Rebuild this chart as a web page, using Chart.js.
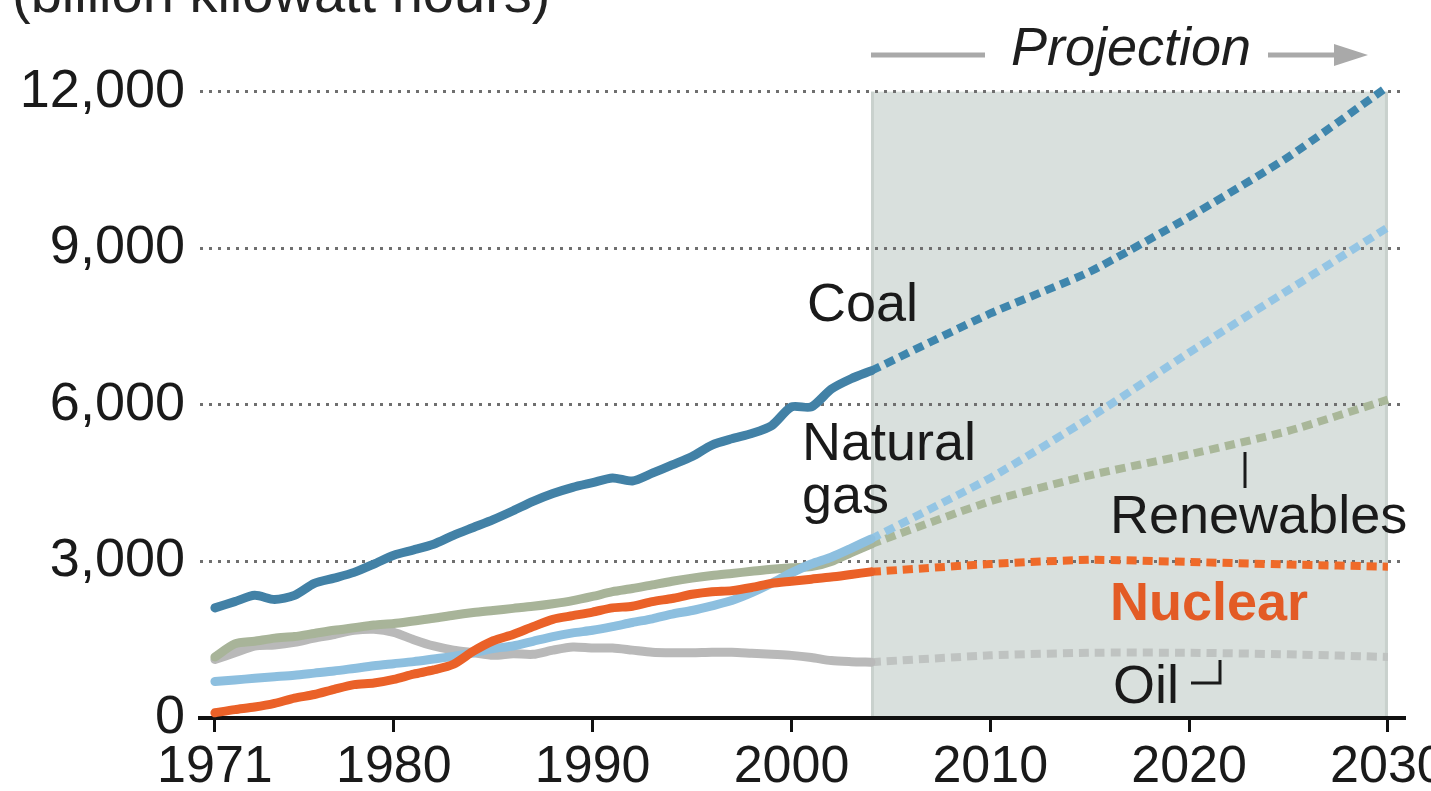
<!DOCTYPE html>
<html>
<head>
<meta charset="utf-8">
<script src="https://cdn.jsdelivr.net/npm/chart.js@4.4.1/dist/chart.umd.min.js"></script>
<style>
  html, body { margin: 0; padding: 0; background: #ffffff; }
  #wrap { width: 1431px; height: 791px; }
</style>
</head>
<body>
<div id="wrap"><canvas id="c" width="1431" height="791"></canvas></div>
<script>
// ---- Data (billion kilowatt hours) ----
const histYears = [1971,1972,1973,1974,1975,1976,1977,1978,1979,1980,1981,1982,1983,1984,1985,1986,1987,1988,1989,1990,1991,1992,1993,1994,1995,1996,1997,1998,1999,2000,2001,2002,2003,2004];
const coalHist = [2110,2230,2350,2270,2350,2580,2680,2790,2950,3120,3220,3330,3500,3650,3800,3970,4150,4300,4420,4510,4600,4540,4690,4850,5010,5230,5350,5450,5600,5960,5960,6300,6500,6650];
const gasHist = [700,730,760,790,820,860,900,950,1000,1040,1080,1130,1180,1250,1330,1380,1470,1560,1630,1680,1750,1830,1900,1990,2060,2150,2250,2400,2580,2780,2950,3080,3250,3430];
const renewHist = [1170,1420,1470,1530,1560,1620,1680,1730,1780,1810,1860,1910,1970,2020,2060,2100,2140,2190,2250,2330,2420,2480,2550,2620,2680,2730,2770,2810,2850,2880,2900,3000,3170,3330];
const nuclearHist = [100,160,210,280,380,450,550,640,670,740,840,920,1030,1280,1480,1600,1750,1890,1960,2030,2110,2140,2230,2290,2370,2420,2440,2500,2580,2620,2660,2700,2750,2800];
const oilHist = [1120,1250,1380,1400,1450,1530,1600,1680,1700,1640,1500,1380,1300,1250,1200,1230,1220,1300,1360,1340,1340,1300,1260,1250,1250,1260,1260,1240,1220,1200,1160,1100,1080,1070];

const projYears = [2004,2010,2015,2020,2025,2030];
const coalProj = [6650,7750,8550,9600,10750,12100];
const gasProj = [3430,4600,5750,7000,8200,9400];
const renewProj = [3330,4150,4650,5050,5500,6100];
const nuclearProj = [2800,2950,3030,2990,2940,2900];
const oilProj = [1070,1200,1250,1250,1220,1170];

const xTickValues = [1971,1980,1990,2000,2010,2020,2030];
const yTickValues = [0,3000,6000,9000,12000];
const projectionStart = 2004;
const projectionEnd = 2030;

// ---- Helpers ----
function pts(xs, ys) { return xs.map((x, i) => ({ x: x, y: ys[i] })); }

const FONT = "'Liberation Sans', Arial, Helvetica, sans-serif";

function solid(label, xs, ys, color) {
  return { label, data: pts(xs, ys), borderColor: color, borderWidth: 9, pointRadius: 0,
           tension: 0.25, fill: false, borderCapStyle: 'round', borderJoinStyle: 'round' };
}
function dashed(label, xs, ys, color) {
  return { label, data: pts(xs, ys), borderColor: color, borderWidth: 8, pointRadius: 0,
           tension: 0.2, fill: false, borderDash: [10, 6], borderCapStyle: 'butt' };
}

// Shaded projection box, drawn before the scales so grid lines lie over it
const projectionBox = {
  id: 'projectionBox',
  beforeDraw(chart) {
    const { ctx, scales: { x, y } } = chart;
    const x0 = x.getPixelForValue(projectionStart), x1 = x.getPixelForValue(projectionEnd);
    const y0 = y.getPixelForValue(12000), y1 = y.getPixelForValue(0);
    ctx.save();
    ctx.fillStyle = '#d9e0dd';
    ctx.fillRect(x0, y0, x1 - x0, y1 - y0);
    ctx.strokeStyle = '#c9d1cd';
    ctx.lineWidth = 3;
    ctx.beginPath();
    ctx.moveTo(x0 + 1.5, y1); ctx.lineTo(x0 + 1.5, y0);
    ctx.moveTo(x1 - 1.5, y0); ctx.lineTo(x1 - 1.5, y1);
    ctx.stroke();
    // unit title (cut off at top as in the original)
    ctx.fillStyle = '#222';
    ctx.font = '56px ' + FONT;
    ctx.textBaseline = 'alphabetic';
    ctx.textAlign = 'left';
    ctx.fillText('(billion kilowatt hours)', 12, 12);
    // Projection arrow header
    const ay = 55;
    ctx.strokeStyle = '#a9a9a9';
    ctx.lineWidth = 5;
    ctx.beginPath();
    ctx.moveTo(x0, ay); ctx.lineTo(985, ay);
    ctx.moveTo(1268, ay); ctx.lineTo(1340, ay);
    ctx.stroke();
    ctx.fillStyle = '#a9a9a9';
    ctx.beginPath();
    ctx.moveTo(1334, ay - 11); ctx.lineTo(1368, ay); ctx.lineTo(1334, ay + 11); ctx.closePath();
    ctx.fill();
    ctx.fillStyle = '#1e1e1e';
    ctx.font = 'italic 54px ' + FONT;
    ctx.textAlign = 'center';
    ctx.textBaseline = 'middle';
    ctx.fillText('Projection', 1131, 50);
    ctx.restore();
  }
};

// Series labels
const seriesLabels = {
  id: 'seriesLabels',
  afterDatasetsDraw(chart) {
    const ctx = chart.ctx;
    ctx.save();
    ctx.textAlign = 'left';
    ctx.textBaseline = 'alphabetic';
    ctx.fillStyle = '#1a1a1a';
    ctx.font = '54px ' + FONT;
    ctx.fillText('Coal', 807, 321);
    ctx.fillText('Natural', 802, 460);
    ctx.fillText('gas', 802, 513);
    ctx.fillText('Renewables', 1110, 533);
    ctx.fillText('Oil', 1113, 703);
    ctx.fillStyle = '#e35b25';
    ctx.font = 'bold 54px ' + FONT;
    ctx.fillText('Nuclear', 1110, 620);
    // leader ticks
    ctx.strokeStyle = '#1a1a1a';
    ctx.lineWidth = 3;
    ctx.beginPath();
    ctx.moveTo(1245, 452); ctx.lineTo(1245, 488);
    ctx.moveTo(1191, 683); ctx.lineTo(1220, 683); ctx.lineTo(1220, 660);
    ctx.stroke();
    ctx.restore();
  }
};

new Chart(document.getElementById('c'), {
  type: 'line',
  data: {
    datasets: [
      solid('Coal', histYears, coalHist, '#4281a6'),
      dashed('Coal projection', projYears, coalProj, '#3f86ad'),
      solid('Nuclear', histYears, nuclearHist, '#ea6128'),
      dashed('Nuclear projection', projYears, nuclearProj, '#ef6a29'),
      solid('Natural gas', histYears, gasHist, '#8dbfdf'),
      dashed('Natural gas projection', projYears, gasProj, '#94c5e4'),
      solid('Renewables', histYears, renewHist, '#a8b499'),
      dashed('Renewables projection', projYears, renewProj, '#a9b799'),
      solid('Oil', histYears, oilHist, '#b9b9b9'),
      dashed('Oil projection', projYears, oilProj, '#bfc3c1')
    ]
  },
  options: {
    responsive: false,
    devicePixelRatio: 1,
    animation: false,
    layout: { padding: { top: 76, right: 26, bottom: 0, left: 0 } },
    plugins: { legend: { display: false }, tooltip: { enabled: false }, title: { display: false } },
    scales: {
      x: {
        type: 'linear',
        min: 1970.25,
        max: 2030.86,
        afterBuildTicks(scale) { scale.ticks = xTickValues.map(v => ({ value: v })); },
        afterFit(scale) { scale.height = 73; scale.paddingLeft = 0; scale.paddingRight = 0; },
        grid: { drawOnChartArea: false, drawTicks: true, tickLength: 14, tickColor: '#111', tickWidth: 3 },
        border: { display: true, color: '#111', width: 4 },
        ticks: {
          autoSkip: false, maxRotation: 0, padding: 4,
          color: '#1a1a1a',
          font: { family: FONT, size: 52 },
          callback: v => String(v)
        }
      },
      y: {
        min: 0,
        max: 12300,
        afterBuildTicks(scale) { scale.ticks = yTickValues.map(v => ({ value: v })); },
        afterFit(scale) { scale.width = 200; scale.paddingTop = 0; scale.paddingBottom = 0; },
        grid: { drawTicks: false, color: '#6f6f6f', lineWidth: 3 },
        border: { display: false, dash: [3, 6] },
        ticks: {
          padding: 15,
          color: '#1a1a1a',
          font: { family: FONT, size: 54 },
          callback: v => v.toLocaleString('en-US')
        }
      }
    }
  },
  plugins: [projectionBox, seriesLabels]
});
</script>
</body>
</html>
